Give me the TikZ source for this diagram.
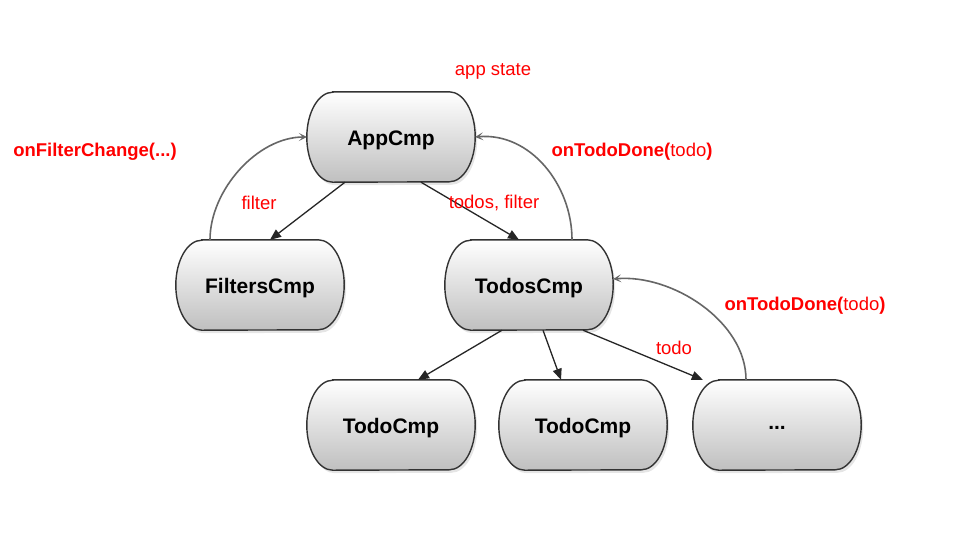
\documentclass[tikz,border=0pt]{standalone}
\usepackage{fontspec}
\setmainfont{Liberation Sans}
\usetikzlibrary{arrows.meta,shadows}
\definecolor{lblred}{HTML}{FF0000}
\definecolor{edgegray}{HTML}{666666}
\tikzset{
  box/.style={minimum width=168pt,minimum height=90pt,inner sep=0pt,font=\fontsize{21}{24}\selectfont\bfseries},
  boxtext/.style={box,yshift=-3pt},
  capsule/.style={draw=black!80,line width=1.4pt,top color=white,bottom color=black!25,
     drop shadow={opacity=0.2,shadow xshift=2pt,shadow yshift=-3pt}},
  lbl/.style={text=lblred,font=\fontsize{18.5}{22}\selectfont,inner sep=0pt},
  blbl/.style={lbl,font=\fontsize{18.5}{22}\selectfont\bfseries},
  flow/.style={draw=black!85,line width=1.3pt,-{Triangle[length=11pt,width=9pt]}},
  back/.style={draw=edgegray,line width=1.6pt,-{Stealth[length=8pt,width=8pt,inset=4pt]}}
}
\newcommand{\capsuleshape}[1]{%
  \path[capsule] ([xshift=26pt]#1.north west) -- ([xshift=-26pt]#1.north east)
    arc[start angle=90,end angle=-90,x radius=26pt,y radius=45pt]
    -- ([xshift=26pt]#1.south west)
    arc[start angle=270,end angle=90,x radius=26pt,y radius=45pt] -- cycle;}
\begin{document}
\begin{tikzpicture}[x=1pt,y=-1pt]
\useasboundingbox (0,0) rectangle (965,552);
\fill[white] (0,0) rectangle (965,552);
% node placeholders
\node[box] (A)  at (391,137) {};
\node[box] (F)  at (260,285) {};
\node[box] (T)  at (529,285) {};
\node[box] (D1) at (391,425) {};
\node[box] (D2) at (583,425) {};
\node[box] (D3) at (777,425) {};
\foreach \n in {A,F,T,D1,D2,D3}{\capsuleshape{\n}}
\node[boxtext] (At)  at (A)  {AppCmp};
\node[boxtext] (Ft)  at (F)  {FiltersCmp};
\node[boxtext] (Tt)  at (T)  {TodosCmp};
\node[boxtext] (D1t) at (D1) {TodoCmp};
\node[boxtext] (D2t) at (D2) {TodoCmp};
\node[boxtext] (D3t) at (D3) {...};
% downward arrows
\draw[flow] ([xshift=-46pt]A.south) -- ([xshift=10pt]F.north);
\draw[flow] ([xshift=30pt]A.south) -- ([xshift=-10pt]T.north);
\draw[flow] ([xshift=-27pt]T.south) -- ([xshift=27pt]D1.north);
\draw[flow] ([xshift=14pt]T.south) -- ([xshift=-22pt]D2.north);
\draw[flow] ([xshift=54pt]T.south) -- ([xshift=10pt]D3.north west);
% callbacks
\draw[back] ([xshift=-50pt]F.north) to[out=90,in=180,looseness=0.9] (A.west);
\draw[back] ([xshift=43pt]T.north) to[out=90,in=5,looseness=1.0] (A.east);
\draw[back] ([xshift=-31pt]D3.north) to[out=90,in=5,looseness=0.9] ([yshift=6pt]T.east);
% labels
\node[lbl] (l1) at (493,71) {app state};
\node[blbl] (l2) at (95,152) {onFilterChange(...)};
\node[lbl] (l3) at (259,203) {filter};
\node[lbl] (l4) at (494,203) {todos, filter};
\node[lbl] (l5) at (632,152) {\textbf{onTodoDone(}todo\textbf{)}};
\node[lbl] (l6) at (805,306) {\textbf{onTodoDone(}todo\textbf{)}};
\node[lbl] (l7) at (674,348) {todo};
\end{tikzpicture}
\end{document}
